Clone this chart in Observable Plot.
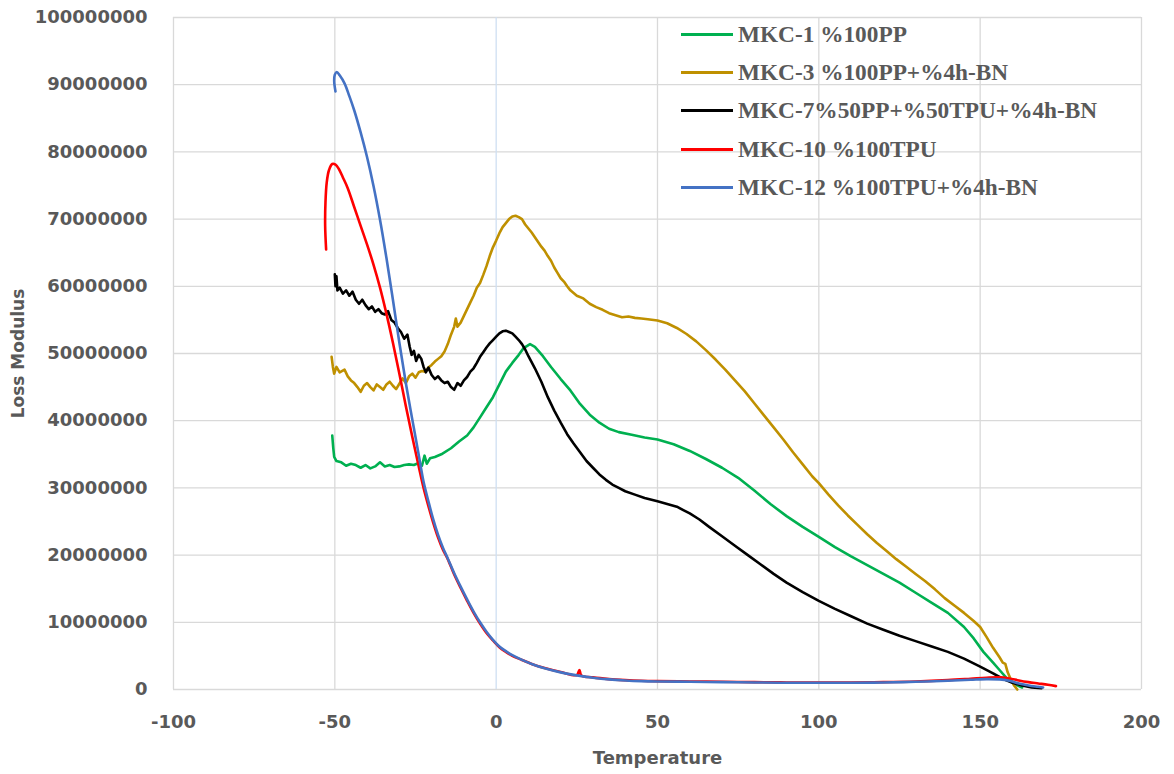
<!DOCTYPE html>
<html><head><meta charset="utf-8">
<script src="https://cdn.jsdelivr.net/npm/d3@7"></script>
<script src="https://cdn.jsdelivr.net/npm/@observablehq/plot@0.6"></script>
<style>
html,body{margin:0;padding:0;background:#fff;overflow:hidden}
#wrap{position:relative;width:1174px;height:774px}
#legend{position:absolute;left:681px;top:15.4px;font-family:"Liberation Serif",serif;font-weight:bold;font-size:23.3px;color:#595959}
.row{display:flex;align-items:center;height:38.2px;white-space:nowrap}
.sw{width:52px;height:3px;margin-right:5px}
</style></head><body><div id="wrap"><div id="legend"></div></div>
<script>
const seriesNames = ["MKC-1 %100PP","MKC-3 %100PP+%4h-BN","MKC-7%50PP+%50TPU+%4h-BN","MKC-10 %100TPU","MKC-12 %100TPU+%4h-BN"];
const seriesColors = ["#00b050","#bf9000","#000000","#ff0000","#4472c4"];
const xTicks = [-100,-50,0,50,100,150,200];
const yTicks = [0,10000000,20000000,30000000,40000000,50000000,60000000,70000000,80000000,90000000,100000000];
const xTitle = "Temperature";
const yTitle = "Loss Modulus";

const mkc1T = [-50.8,-50.5,-50.2,-49.5,-48,-46.5,-45,-43.5,-42,-40.5,-39,-37.5,-36,-34.5,-33,-31.5,-30,-28.5,-27,-25.5,-24,-23,-22.2,-21.5,-20.5,-19,-17,-14,-11.5,-9,-7,-5,-3,-1,1,3,5,7,8.5,10.5,12,14.5,17,20,23,26,29,32,35,38,42,46,50,55,60,65,70,75,80,85,90,95,100,105,110,115,120,125,130,135,140,145,148,151,154,156,158,160,162,163];
const mkc1V = [37.8e6,36.0e6,34.6e6,34.0e6,33.8e6,33.3e6,33.6e6,33.4e6,33.0e6,33.4e6,32.9e6,33.2e6,33.8e6,33.2e6,33.4e6,33.1e6,33.2e6,33.4e6,33.5e6,33.4e6,33.7e6,33.3e6,34.8e6,33.6e6,34.4e6,34.6e6,35.0e6,35.9e6,36.9e6,37.8e6,39.0e6,40.5e6,42.0e6,43.5e6,45.4e6,47.3e6,48.6e6,49.8e6,50.8e6,51.4e6,51.0e6,49.6e6,48.0e6,46.2e6,44.5e6,42.5e6,40.9e6,39.7e6,38.8e6,38.3e6,37.9e6,37.5e6,37.2e6,36.5e6,35.5e6,34.3e6,33.0e6,31.5e6,29.6e6,27.6e6,25.8e6,24.2e6,22.7e6,21.2e6,19.8e6,18.5e6,17.2e6,15.9e6,14.4e6,12.9e6,11.4e6,9.3e6,7.6e6,5.6e6,4.0e6,2.9e6,1.8e6,1.0e6,0.5e6,0.3e6];

const mkc3T = [-51,-50.6,-50.2,-49.5,-48.5,-47,-46,-45,-44,-43,-42,-41,-40,-39,-38,-37,-36,-35,-34,-33,-32,-31,-30,-29,-28,-27,-26,-25,-24,-23,-22,-21,-20,-19,-18,-17,-16,-15,-14,-13,-12.5,-12,-11,-10,-9,-8,-7,-6,-5,-4,-3,-2,-1,0,1,2,3,4,5,6,7,8,9,10,11,12,13,14,15,16,17,18,19,20,21,22,23,24,25,27,29,31,33,35,37,39,41,43,45,47,50,53,56,59,62,65,68,71,74,77,80,83,86,89,92,95,98,100,103,106,109,112,115,118,121,124,127,130,133,136,139,142,145,148,150,152,154,156,157,157.8,158.5,159.5,160.5,161.5];
const mkc3V = [49.5e6,48.0e6,47.0e6,48.0e6,47.2e6,47.6e6,46.6e6,46.0e6,45.6e6,45.0e6,44.3e6,45.2e6,45.6e6,45.0e6,44.5e6,45.4e6,45.0e6,44.6e6,45.4e6,45.8e6,45.2e6,44.7e6,45.5e6,46.3e6,45.6e6,46.6e6,47.0e6,46.4e6,47.2e6,47.4e6,47.3e6,47.9e6,48.3e6,48.8e6,49.2e6,49.6e6,50.3e6,51.4e6,52.8e6,54.0e6,55.2e6,54.0e6,54.6e6,55.6e6,56.6e6,57.6e6,58.6e6,59.8e6,60.5e6,61.7e6,63.0e6,64.5e6,65.8e6,66.8e6,67.9e6,68.8e6,69.4e6,70.0e6,70.4e6,70.5e6,70.3e6,70.0e6,69.2e6,68.6e6,68.0e6,67.3e6,66.6e6,65.9e6,65.3e6,64.5e6,63.8e6,62.8e6,62.0e6,61.2e6,60.7e6,60.0e6,59.4e6,59.0e6,58.6e6,58.2e6,57.4e6,56.9e6,56.5e6,56.0e6,55.7e6,55.4e6,55.5e6,55.3e6,55.2e6,55.1e6,54.9e6,54.5e6,53.8e6,52.9e6,51.8e6,50.5e6,49.1e6,47.6e6,46.0e6,44.4e6,42.6e6,40.8e6,39.0e6,37.2e6,35.3e6,33.5e6,31.7e6,30.7e6,29.0e6,27.4e6,25.9e6,24.5e6,23.1e6,21.8e6,20.6e6,19.4e6,18.3e6,17.2e6,16.1e6,14.9e6,13.6e6,12.5e6,11.4e6,10.2e6,9.3e6,7.8e6,6.2e6,4.8e6,4.0e6,3.8e6,2.6e6,1.5e6,0.6e6,0.0e6];

const mkc7T = [-50,-49.8,-49.5,-49.2,-48.5,-47.5,-46.5,-45.5,-44.5,-43.5,-42.5,-41.5,-40.5,-39.5,-38.5,-37.5,-36.5,-35.5,-34.5,-33.5,-32.5,-31.5,-30.5,-29.5,-28.5,-27.5,-26.8,-26.2,-25.5,-24.8,-24,-23.2,-22.5,-21.8,-21,-20,-19,-18,-17,-16,-15,-14,-13,-12,-11,-10,-9,-8,-7,-6,-5,-4,-3,-2,-1,0,1,2,3,4,5,6,7,8,9,10,12,14,16,18,20,22,24,26,28,30,32,34,36,38,40,43,46,50,53,56,58,60,63,66,70,74,78,82,86,90,95,100,105,110,115,120,125,130,135,140,145,150,154,157,160,163,166,169];
const mkc7V = [61.8e6,60.0e6,61.5e6,59.4e6,59.8e6,58.9e6,59.4e6,58.6e6,59.2e6,58.0e6,57.4e6,58.0e6,57.2e6,56.6e6,57.0e6,56.2e6,56.6e6,56.0e6,55.8e6,56.3e6,55.0e6,54.6e6,53.8e6,53.2e6,52.2e6,52.8e6,51.0e6,49.8e6,50.4e6,48.9e6,49.8e6,49.2e6,48.0e6,47.2e6,47.9e6,46.8e6,46.2e6,46.6e6,46.0e6,45.6e6,45.8e6,45.0e6,44.6e6,45.6e6,45.2e6,46.0e6,46.5e6,47.3e6,47.8e6,48.6e6,49.5e6,50.2e6,50.9e6,51.5e6,52.0e6,52.5e6,53.0e6,53.3e6,53.4e6,53.2e6,53.0e6,52.5e6,52.0e6,51.4e6,50.6e6,49.6e6,47.8e6,45.8e6,43.5e6,41.5e6,39.7e6,38.0e6,36.6e6,35.3e6,34.0e6,33.0e6,32.0e6,31.2e6,30.5e6,30.0e6,29.5e6,29.0e6,28.5e6,28.0e6,27.6e6,27.2e6,26.7e6,26.2e6,25.3e6,24.2e6,22.8e6,21.4e6,20.0e6,18.6e6,17.2e6,15.9e6,14.5e6,13.2e6,12.0e6,10.9e6,9.8e6,8.9e6,8.0e6,7.2e6,6.4e6,5.6e6,4.6e6,3.4e6,2.4e6,1.6e6,1.0e6,0.6e6,0.3e6,0.2e6];

const mkc10T = [-52.7,-53.0,-52.9,-52.5,-51.8,-50.8,-49.8,-48.8,-47.5,-46,-44,-42,-40,-38,-36,-34,-32,-30,-28,-26,-24,-22.5,-21,-19.5,-18,-16.5,-15,-13,-11,-9,-7,-5,-3,-1,1,3,5,8,11,15,20,25,25.8,26.4,30,35,40,45,50,60,70,80,90,100,110,120,130,140,147,152,156,159,162,165,168,171,173.5];
const mkc10V = [65.5e6,69.0e6,72.5e6,75.5e6,77.3e6,78.2e6,78.1e6,77.5e6,76.2e6,74.6e6,71.8e6,69.0e6,66.2e6,63.2e6,59.8e6,55.9e6,51.6e6,47.0e6,42.2e6,37.6e6,33.2e6,30.0e6,27.3e6,24.8e6,22.6e6,20.8e6,19.4e6,17.1e6,15.1e6,13.2e6,11.4e6,9.8e6,8.4e6,7.3e6,6.3e6,5.6e6,5.0e6,4.4e6,3.8e6,3.2e6,2.6e6,2.15e6,2.9e6,2.1e6,1.8e6,1.55e6,1.4e6,1.3e6,1.25e6,1.2e6,1.15e6,1.1e6,1.05e6,1.05e6,1.05e6,1.1e6,1.2e6,1.4e6,1.6e6,1.75e6,1.8e6,1.65e6,1.35e6,1.1e6,0.9e6,0.7e6,0.5e6];

const mkc12T = [-49.8,-50.2,-50,-49.4,-48.5,-47,-45.5,-44,-42,-40,-38,-36,-34,-32,-30,-28,-26,-24,-22.5,-21,-19.5,-18,-16.5,-15,-13,-11,-9,-7,-5,-3,-1,1,3,5,8,11,15,20,25,30,35,40,45,50,60,70,80,90,100,110,120,130,140,147,152,156,159,162,165,168,169.5];
const mkc12V = [89.0e6,90.5e6,91.5e6,91.9e6,91.4e6,90.2e6,88.3e6,86.2e6,82.9e6,79.2e6,74.9e6,69.9e6,64.2e6,58.0e6,51.6e6,45.6e6,40.2e6,34.9e6,30.9e6,28.0e6,25.3e6,23.0e6,21.1e6,19.5e6,17.3e6,15.3e6,13.4e6,11.6e6,10.0e6,8.6e6,7.4e6,6.4e6,5.7e6,5.1e6,4.4e6,3.8e6,3.15e6,2.55e6,2.1e6,1.75e6,1.5e6,1.35e6,1.25e6,1.2e6,1.15e6,1.1e6,1.05e6,1.0e6,1.0e6,1.0e6,1.05e6,1.15e6,1.3e6,1.45e6,1.55e6,1.5e6,1.3e6,0.9e6,0.6e6,0.4e6,0.3e6];

const seriesT = [mkc1T, mkc3T, mkc7T, mkc10T, mkc12T];
const seriesV = [mkc1V, mkc3V, mkc7V, mkc10V, mkc12V];
const rows = [];
seriesNames.forEach((s, i) => seriesT[i].forEach((t, j) => rows.push({s, i, t, v: seriesV[i][j]})));
const noisyRows = rows.filter(d => d.i < 3);
const smoothRows = rows.filter(d => d.i >= 3);

const gridStyle = {stroke: "#d9d9d9", strokeOpacity: 1, strokeWidth: 1.3};
const labelStyle = {fontSize: 18, fontWeight: "bold", color: "#595959", tickSize: 0, tickPadding: 26, label: null};
const lineStyle = {x: "t", y: "v", z: "s", stroke: "s", strokeWidth: 2.6, strokeLinejoin: "round"};

const chart = Plot.plot({
  width: 1174, height: 774,
  marginTop: 17, marginRight: 33, marginBottom: 85, marginLeft: 173,
  style: {fontFamily: "'DejaVu Sans', sans-serif", background: "white", overflow: "visible"},
  x: {domain: [-100, 200]},
  y: {domain: [0, 100000000]},
  color: {domain: seriesNames, range: seriesColors},
  marks: [
    Plot.gridX(xTicks.filter(d => d !== 0), gridStyle),
    Plot.gridY(yTicks, gridStyle),
    Plot.ruleX([0], {stroke: "#cfdff2", strokeWidth: 1.3}),
    Plot.axisX(xTicks, {...labelStyle, tickFormat: d => String(d)}),
    Plot.axisY(yTicks, {...labelStyle, tickFormat: d => String(d)}),
    Plot.line(noisyRows, lineStyle),
    Plot.line(smoothRows, {...lineStyle, curve: "catmull-rom"}),
    Plot.text([xTitle], {frameAnchor: "bottom", dy: 69, lineAnchor: "middle", textAnchor: "middle", fontSize: 18, fontWeight: "bold", fill: "#595959"}),
    Plot.text([yTitle], {frameAnchor: "left", rotate: -90, dx: -155, lineAnchor: "middle", textAnchor: "middle", fontSize: 17, fontWeight: "bold", fill: "#595959"})
  ]
});
document.getElementById("wrap").prepend(chart);

const legend = document.getElementById("legend");
seriesNames.forEach((s, i) => {
  const row = document.createElement("div");
  row.className = "row";
  const sw = document.createElement("span");
  sw.className = "sw";
  sw.style.background = seriesColors[i];
  const tx = document.createElement("span");
  tx.textContent = s;
  row.append(sw, tx);
  legend.append(row);
});
</script></body></html>
